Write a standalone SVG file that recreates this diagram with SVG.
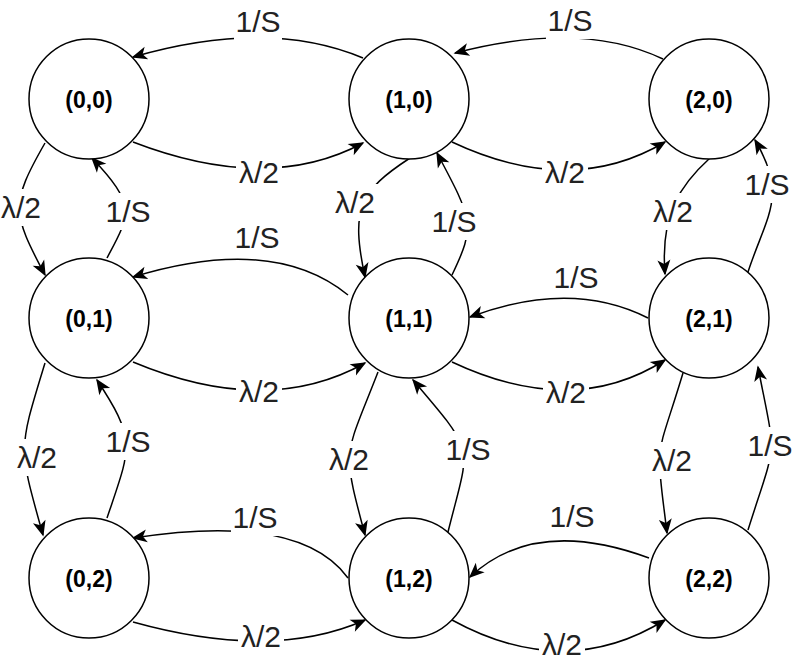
<svg xmlns="http://www.w3.org/2000/svg" width="796" height="662" viewBox="0 0 796 662">
<defs>
<marker id="arr" markerUnits="userSpaceOnUse" markerWidth="18" markerHeight="16" viewBox="-16 -8 18 16" refX="0" refY="0" orient="auto">
<path d="M1.5,0 L-14,-6.5 L-10,0 L-14,6.5 Z" fill="#000"/>
</marker>
<style>
.n{fill:#fff;stroke:#000;stroke-width:1.5}
.nt{font-family:"Liberation Sans",Arial,sans-serif;font-size:23px;font-weight:bold;text-anchor:middle;fill:#000}
.e{fill:none;stroke:#000;stroke-width:1.5;marker-end:url(#arr)}
.lb{fill:#fff}
.lt{font-family:"Liberation Sans",Arial,sans-serif;font-size:30px;text-anchor:middle;fill:#222}
</style>
</defs>
<rect width="796" height="662" fill="#fff"/>
<g id="connectors">
<path class="e" d="M363,58 Q268,18 133,57"/>
<path class="e" d="M663,59 Q581,20 455,53"/>
<path class="e" d="M133,142 Q268,194 363,143"/>
<path class="e" d="M452,142 Q571,198 665,142"/>
<path class="e" d="M348,295 Q273,234 133,277"/>
<path class="e" d="M648,318 Q571,279 470,317"/>
<path class="e" d="M133,362 Q267,418 365,363"/>
<path class="e" d="M452,362 Q573,419 665,360"/>
<path class="e" d="M348,578 Q300,512 133,538"/>
<path class="e" d="M649,558 Q535,516 470,577"/>
<path class="e" d="M133,622 Q273,661 365,620"/>
<path class="e" d="M452,620 Q565,682 665,620"/>
<path class="e" d="M45,143 C10,204 12,213 45,275"/>
<path class="e" d="M107,258 C130.5,214 136.9,205.5 92,158"/>
<path class="e" d="M410,158 C359.6,191 350.3,208.4 365,277"/>
<path class="e" d="M452,275 C475.7,225.5 473.2,220.8 437,153"/>
<path class="e" d="M710,158 C680.4,184.8 660.2,214 665,274"/>
<path class="e" d="M748,272 C766.6,215 788.4,196.3 755,140"/>
<path class="e" d="M45,363 C18,451.3 18,445.8 43,535"/>
<path class="e" d="M107,518 C130.6,448 137.5,441.1 97,380"/>
<path class="e" d="M378,372 C344.7,458 341,445.4 365,535"/>
<path class="e" d="M448,532 C469.6,444.7 478,456 413,380"/>
<path class="e" d="M683,373 C654.7,466.7 655.3,436.4 667,533"/>
<path class="e" d="M748,530 C777.4,436.9 776.6,463 758,367"/>
</g>
<g id="labels">
<rect class="lb" x="234" y="3" width="48" height="37"/><text class="lt" x="258" y="32">1/S</text>
<rect class="lb" x="546" y="2" width="48" height="37"/><text class="lt" x="570" y="31">1/S</text>
<rect class="lb" x="236" y="154" width="46" height="37"/><text class="lt" x="259" y="183">λ/2</text>
<rect class="lb" x="542" y="154" width="46" height="37"/><text class="lt" x="565" y="183">λ/2</text>
<rect class="lb" x="-2" y="189" width="46" height="37"/><text class="lt" x="21" y="218">λ/2</text>
<rect class="lb" x="104" y="193" width="48" height="37"/><text class="lt" x="128" y="222">1/S</text>
<rect class="lb" x="332" y="184" width="46" height="37"/><text class="lt" x="355" y="213">λ/2</text>
<rect class="lb" x="430" y="203" width="48" height="37"/><text class="lt" x="454" y="232">1/S</text>
<rect class="lb" x="650" y="193" width="46" height="37"/><text class="lt" x="673" y="222">λ/2</text>
<rect class="lb" x="743" y="166" width="48" height="37"/><text class="lt" x="767" y="195">1/S</text>
<rect class="lb" x="233" y="219" width="48" height="37"/><text class="lt" x="257" y="248">1/S</text>
<rect class="lb" x="552" y="259" width="48" height="37"/><text class="lt" x="576" y="288">1/S</text>
<rect class="lb" x="236" y="373" width="46" height="37"/><text class="lt" x="259" y="402">λ/2</text>
<rect class="lb" x="543" y="374" width="46" height="37"/><text class="lt" x="566" y="403">λ/2</text>
<rect class="lb" x="14" y="439" width="46" height="37"/><text class="lt" x="37" y="468">λ/2</text>
<rect class="lb" x="104" y="423" width="48" height="37"/><text class="lt" x="128" y="452">1/S</text>
<rect class="lb" x="326" y="441" width="46" height="37"/><text class="lt" x="349" y="470">λ/2</text>
<rect class="lb" x="444" y="431" width="48" height="37"/><text class="lt" x="468" y="460">1/S</text>
<rect class="lb" x="649" y="442" width="46" height="37"/><text class="lt" x="672" y="471">λ/2</text>
<rect class="lb" x="746" y="427" width="48" height="37"/><text class="lt" x="770" y="456">1/S</text>
<rect class="lb" x="231" y="499" width="48" height="37"/><text class="lt" x="255" y="528">1/S</text>
<rect class="lb" x="548" y="498" width="48" height="37"/><text class="lt" x="572" y="527">1/S</text>
<rect class="lb" x="238" y="618" width="46" height="37"/><text class="lt" x="261" y="647">λ/2</text>
<rect class="lb" x="539" y="626" width="46" height="37"/><text class="lt" x="562" y="655">λ/2</text>
</g>
<g id="n00"><circle class="n" cx="89" cy="99" r="60"/><text class="nt" x="89" y="107.5">(0,0)</text></g>
<g id="n10"><circle class="n" cx="409" cy="99" r="60"/><text class="nt" x="409" y="107.5">(1,0)</text></g>
<g id="n20"><circle class="n" cx="709" cy="99" r="60"/><text class="nt" x="709" y="107.5">(2,0)</text></g>
<g id="n01"><circle class="n" cx="89" cy="318" r="60"/><text class="nt" x="89" y="326.5">(0,1)</text></g>
<g id="n11"><circle class="n" cx="409" cy="318" r="60"/><text class="nt" x="409" y="326.5">(1,1)</text></g>
<g id="n21"><circle class="n" cx="709" cy="318" r="60"/><text class="nt" x="709" y="326.5">(2,1)</text></g>
<g id="n02"><circle class="n" cx="89" cy="578" r="60"/><text class="nt" x="89" y="586.5">(0,2)</text></g>
<g id="n12"><circle class="n" cx="409" cy="578" r="60"/><text class="nt" x="409" y="586.5">(1,2)</text></g>
<g id="n22"><circle class="n" cx="709" cy="578" r="60"/><text class="nt" x="709" y="586.5">(2,2)</text></g>
</svg>
